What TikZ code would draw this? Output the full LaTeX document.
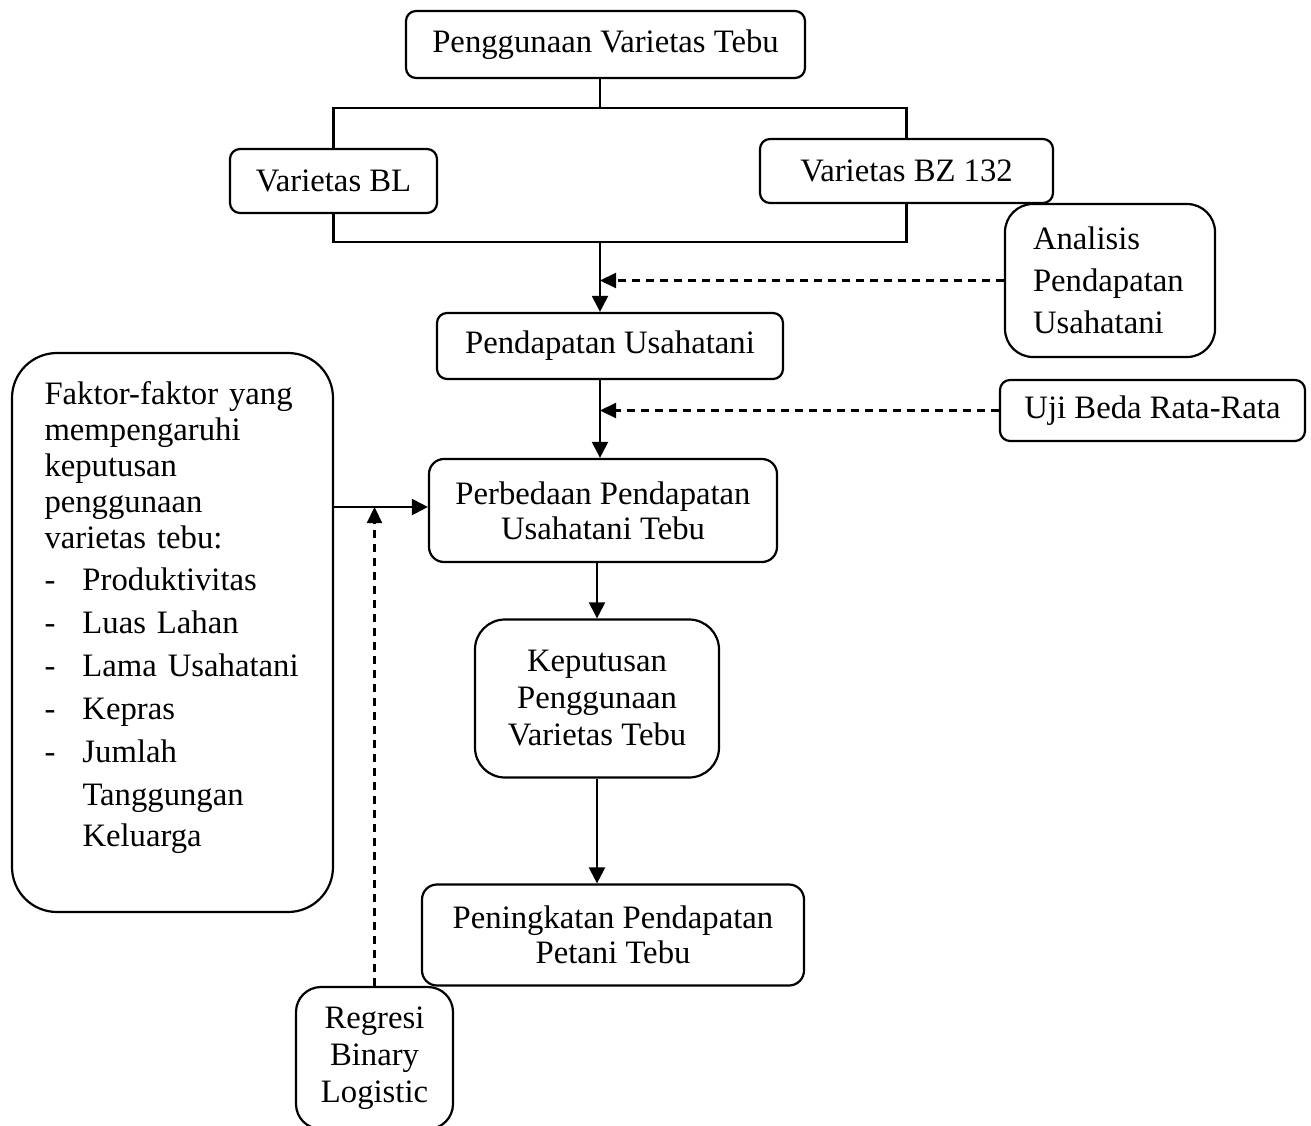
\documentclass[tikz,border=0pt]{standalone}
\usepackage{fontspec}
\setmainfont{Liberation Serif}
\usetikzlibrary{arrows.meta}
\begin{document}
\begin{tikzpicture}[x=1pt,y=1pt,line width=2.2pt,
  font=\fontsize{32.7}{37}\selectfont,
  kotak/.style={draw,rounded corners=10pt,inner sep=0pt,align=center},
  panah/.style={-{Triangle[length=16pt,width=16pt]}},
  putus/.style={-{Triangle[length=16pt,width=15pt]},dash pattern=on 8pt off 6pt}]
 \useasboundingbox (0,0) rectangle (1311,-1126); %batas gambar
 \node[kotak,minimum width=399,minimum height=67] (guna) at (605.5,-44.5) {Penggunaan Varietas Tebu}; %judul
 \node[kotak,minimum width=207,minimum height=64] (bl) at (333.5,-181) {Varietas BL};
 \node[kotak,minimum width=293,minimum height=64] (bz) at (906.5,-171) {Varietas BZ 132};
 \node[kotak,rounded corners=28pt,align=left,text width=154,inner xsep=28pt,minimum height=153,font=\fontsize{32.7}{42}\selectfont] (analisis) at (1110,-280.5) {Analisis\\Pendapatan\\Usahatani};
 \node[kotak,minimum width=346,minimum height=66] (pend) at (610,-346) {Pendapatan Usahatani};
 \node[kotak,minimum width=305,minimum height=61] (uji) at (1152.5,-410.5) {Uji Beda Rata-Rata};
 \node[kotak,rounded corners=15pt,minimum width=348,minimum height=103,font=\fontsize{32.7}{35}\selectfont] (beda) at (603,-510.5) {Perbedaan Pendapatan\\Usahatani Tebu};
 \node[kotak,rounded corners=30pt,minimum width=244,minimum height=158] (kep) at (597,-698.5) {Keputusan\\Penggunaan\\Varietas Tebu};
 \node[kotak,rounded corners=15pt,minimum width=382,minimum height=101,font=\fontsize{32.7}{35}\selectfont] (tingkat) at (613,-935) {Peningkatan Pendapatan\\Petani Tebu};
 \node[kotak,rounded corners=45pt,align=left,text width=256,inner xsep=32.5pt,minimum height=559,font=\fontsize{32.7}{36}\selectfont] (faktor) at (172.5,-632.5)
  {\makebox[249pt][s]{Faktor-faktor yang}\\mempengaruhi\\keputusan\\penggunaan\\varietas tebu:\\[6pt]
   \makebox[38pt][l]{-}Produktivitas\\[7pt]
   \makebox[38pt][l]{-}Luas Lahan\\[7pt]
   \makebox[38pt][l]{-}Lama Usahatani\\[7pt]
   \makebox[38pt][l]{-}Kepras\\[7pt]
   \makebox[38pt][l]{-}Jumlah\\[7pt]
   \hspace*{38pt}Tanggungan\\[5pt]
   \hspace*{38pt}Keluarga\rule[-37pt]{0pt}{1pt}}; %daftar faktor
 \node[kotak,rounded corners=25pt,minimum width=157,minimum height=142] (regresi) at (374.5,-1058) {Regresi\\Binary\\Logistic};
 \coordinate (atas) at (600,-108); %cabang atas
 \coordinate (bawah) at (600,-242); %cabang bawah
 \coordinate (fk) at (333,-507); %keluar dari faktor
 \draw (guna.south-|atas) -- (atas);
 \draw (bl.north) |- (atas) -| (bz.north);
 \draw (bl.south) |- (bawah) -| (bz.south);
 \draw[panah] (bawah) -- (bawah|-pend.north);
 \draw[putus] (analisis.west) -- (analisis.west-|bawah);
 \draw[panah] (pend.south-|bawah) -- (beda.north-|bawah);
 \draw[putus] (uji.west) -- (uji.west-|bawah);
 \draw[panah] (beda.south-|kep.north) -- (kep.north);
 \draw[panah] (kep.south) -- (kep.south|-tingkat.north);
 \draw[panah] (fk) -- (fk-|beda.west);
 \draw[putus] (regresi.north) -- (regresi.north|-fk);
\end{tikzpicture}
\end{document}
